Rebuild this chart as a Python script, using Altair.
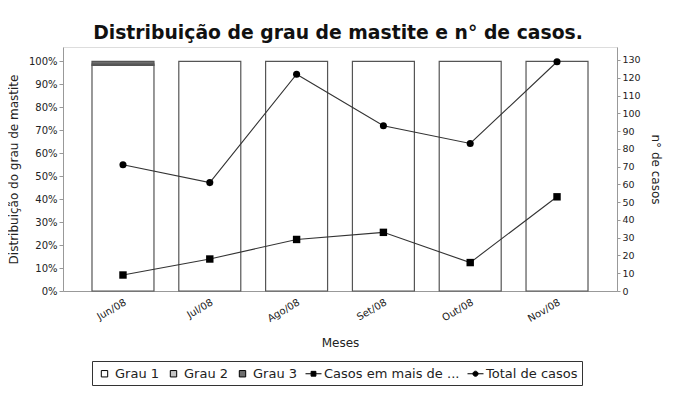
import altair as alt
import pandas as pd

# ---- data ----
meses = ["Jun/08", "Jul/08", "Ago/08", "Set/08", "Out/08", "Nov/08"]
graus = ["Grau 1", "Grau 2", "Grau 3"]
grau1 = [0.983, 1.0, 1.0, 1.0, 1.0, 1.0]
grau2 = [0.005, 0.0, 0.0, 0.0, 0.0, 0.0]
grau3 = [0.012, 0.0, 0.0, 0.0, 0.0, 0.0]
series = ["Casos em mais de ...", "Total de casos"]
casos_mais = [9, 18, 29, 33, 16, 53]
total_casos = [71, 61, 122, 93, 83, 129]
pct_ticks = [0, 0.1, 0.2, 0.3, 0.4, 0.5, 0.6, 0.7, 0.8, 0.9, 1.0]
n_ticks = [0, 10, 20, 30, 40, 50, 60, 70, 80, 90, 100, 110, 120, 130]

# ---- style ----
fills = ["#ffffff", "#c4c4c4", "#6e6e6e"]
legend_names = graus + series
legend_colors = fills + ["#000000", "#000000"]
legend_shapes = [
    "M-0.4,-0.4H0.4V0.4H-0.4Z",
    "M-0.4,-0.4H0.4V0.4H-0.4Z",
    "M-0.4,-0.4H0.4V0.4H-0.4Z",
    "M-1,0H1M-0.3,-0.3H0.3V0.3H-0.3Z",
    "M-1,0H1M-0.32,0A0.32,0.32,0,1,0,0.32,0A0.32,0.32,0,1,0,-0.32,0Z",
]
FONT = "DejaVu Sans"

bar_rows = []
for i, m in enumerate(meses):
    for k, vals in enumerate([grau1, grau2, grau3]):
        bar_rows.append({"mes": m, "grau": graus[k], "ordem": k, "valor": vals[i]})
bars_df = pd.DataFrame(bar_rows)

line_rows = []
for i, m in enumerate(meses):
    line_rows.append({"mes": m, "serie": series[0], "n": casos_mais[i]})
    line_rows.append({"mes": m, "serie": series[1], "n": total_casos[i]})
lines_df = pd.DataFrame(line_rows)

x_enc = alt.X(
    "mes:N", sort=meses,
    scale=alt.Scale(paddingInner=0.286, paddingOuter=0.334),
    axis=alt.Axis(title="Meses", labelAngle=330, labelAlign="right", labelBaseline="top",
                  ticks=False, labelFontSize=10, titleFontSize=12, titleFontWeight="normal",
                  domainColor="#999", labelPadding=6, titlePadding=14,
                  labelColor="#222", titleColor="#222"),
)

bars = alt.Chart(bars_df).transform_filter("datum.valor > 0").mark_bar(
    stroke="#555", strokeWidth=1.2
).encode(
    x=x_enc,
    y=alt.Y("valor:Q", stack="zero",
            scale=alt.Scale(domain=[0, 1.063], nice=False),
            axis=alt.Axis(title="Distribuição do grau de mastite", format=".0%", values=pct_ticks,
                          grid=False, orient="left", labelFontSize=10, titleFontSize=12,
                          titleFontWeight="normal", tickSize=4, labelPadding=2, titlePadding=8,
                          domainColor="#999", tickColor="#999", labelColor="#222", titleColor="#222")),
    fill=alt.Fill("grau:N", scale=alt.Scale(domain=graus, range=fills), legend=None),
    order=alt.Order("ordem:Q"),
)

y2 = alt.Y("n:Q", scale=alt.Scale(domain=[0, 137.3], nice=False),
           axis=alt.Axis(title="n° de casos", orient="right", values=n_ticks, grid=False,
                         labelFontSize=9.5, titleFontSize=12, titleFontWeight="normal",
                         tickSize=3, labelPadding=2, titlePadding=8,
                         domainColor="#999", tickColor="#999", labelColor="#222", titleColor="#222"))

line = alt.Chart(lines_df).mark_line(color="#333", strokeWidth=1.1).encode(
    x=x_enc, y=y2, detail="serie:N")
pts_sq = alt.Chart(lines_df).transform_filter(alt.datum.serie == series[0]).mark_point(
    shape="square", filled=True, size=55, color="black", opacity=1).encode(x=x_enc, y=y2)
pts_ci = alt.Chart(lines_df).transform_filter(alt.datum.serie == series[1]).mark_point(
    shape="circle", filled=True, size=50, color="black", opacity=1).encode(x=x_enc, y=y2)

leg = alt.Legend(title=None, orient="none", legendX=29, legendY=314, direction="horizontal",
                 columns=5, strokeColor="#333", padding=4, labelFontSize=13, labelFont=FONT,
                 symbolSize=256, columnPadding=5, labelOffset=2,
                 symbolStrokeWidth=1, symbolOpacity=1, labelColor="#222", labelLimit=300)
legend_layer = alt.Chart(lines_df).mark_point(
    filled=True, opacity=0, stroke="black", strokeWidth=1
).encode(
    x=x_enc, y=y2,
    color=alt.Color("serie:N", scale=alt.Scale(domain=legend_names, range=legend_colors), legend=leg),
    shape=alt.Shape("serie:N", scale=alt.Scale(domain=legend_names, range=legend_shapes), legend=leg),
)

lines = alt.layer(line, pts_sq, pts_ci, legend_layer)

chart = alt.layer(bars, lines).resolve_scale(y="independent").properties(
    width=554, height=244,
    title=alt.Title("Distribuição de grau de mastite e n° de casos.", fontSize=18.8,
                    fontWeight="bold", font=FONT, offset=4, dx=-2, color="#111"),
    autosize=alt.AutoSizeParams(type="none"),
    padding={"left": 55, "top": 39, "right": 62, "bottom": 106},
).configure_view(stroke="#bbb").configure(font=FONT)

chart.save("out.html", embed_options={"renderer": "svg", "actions": False})
